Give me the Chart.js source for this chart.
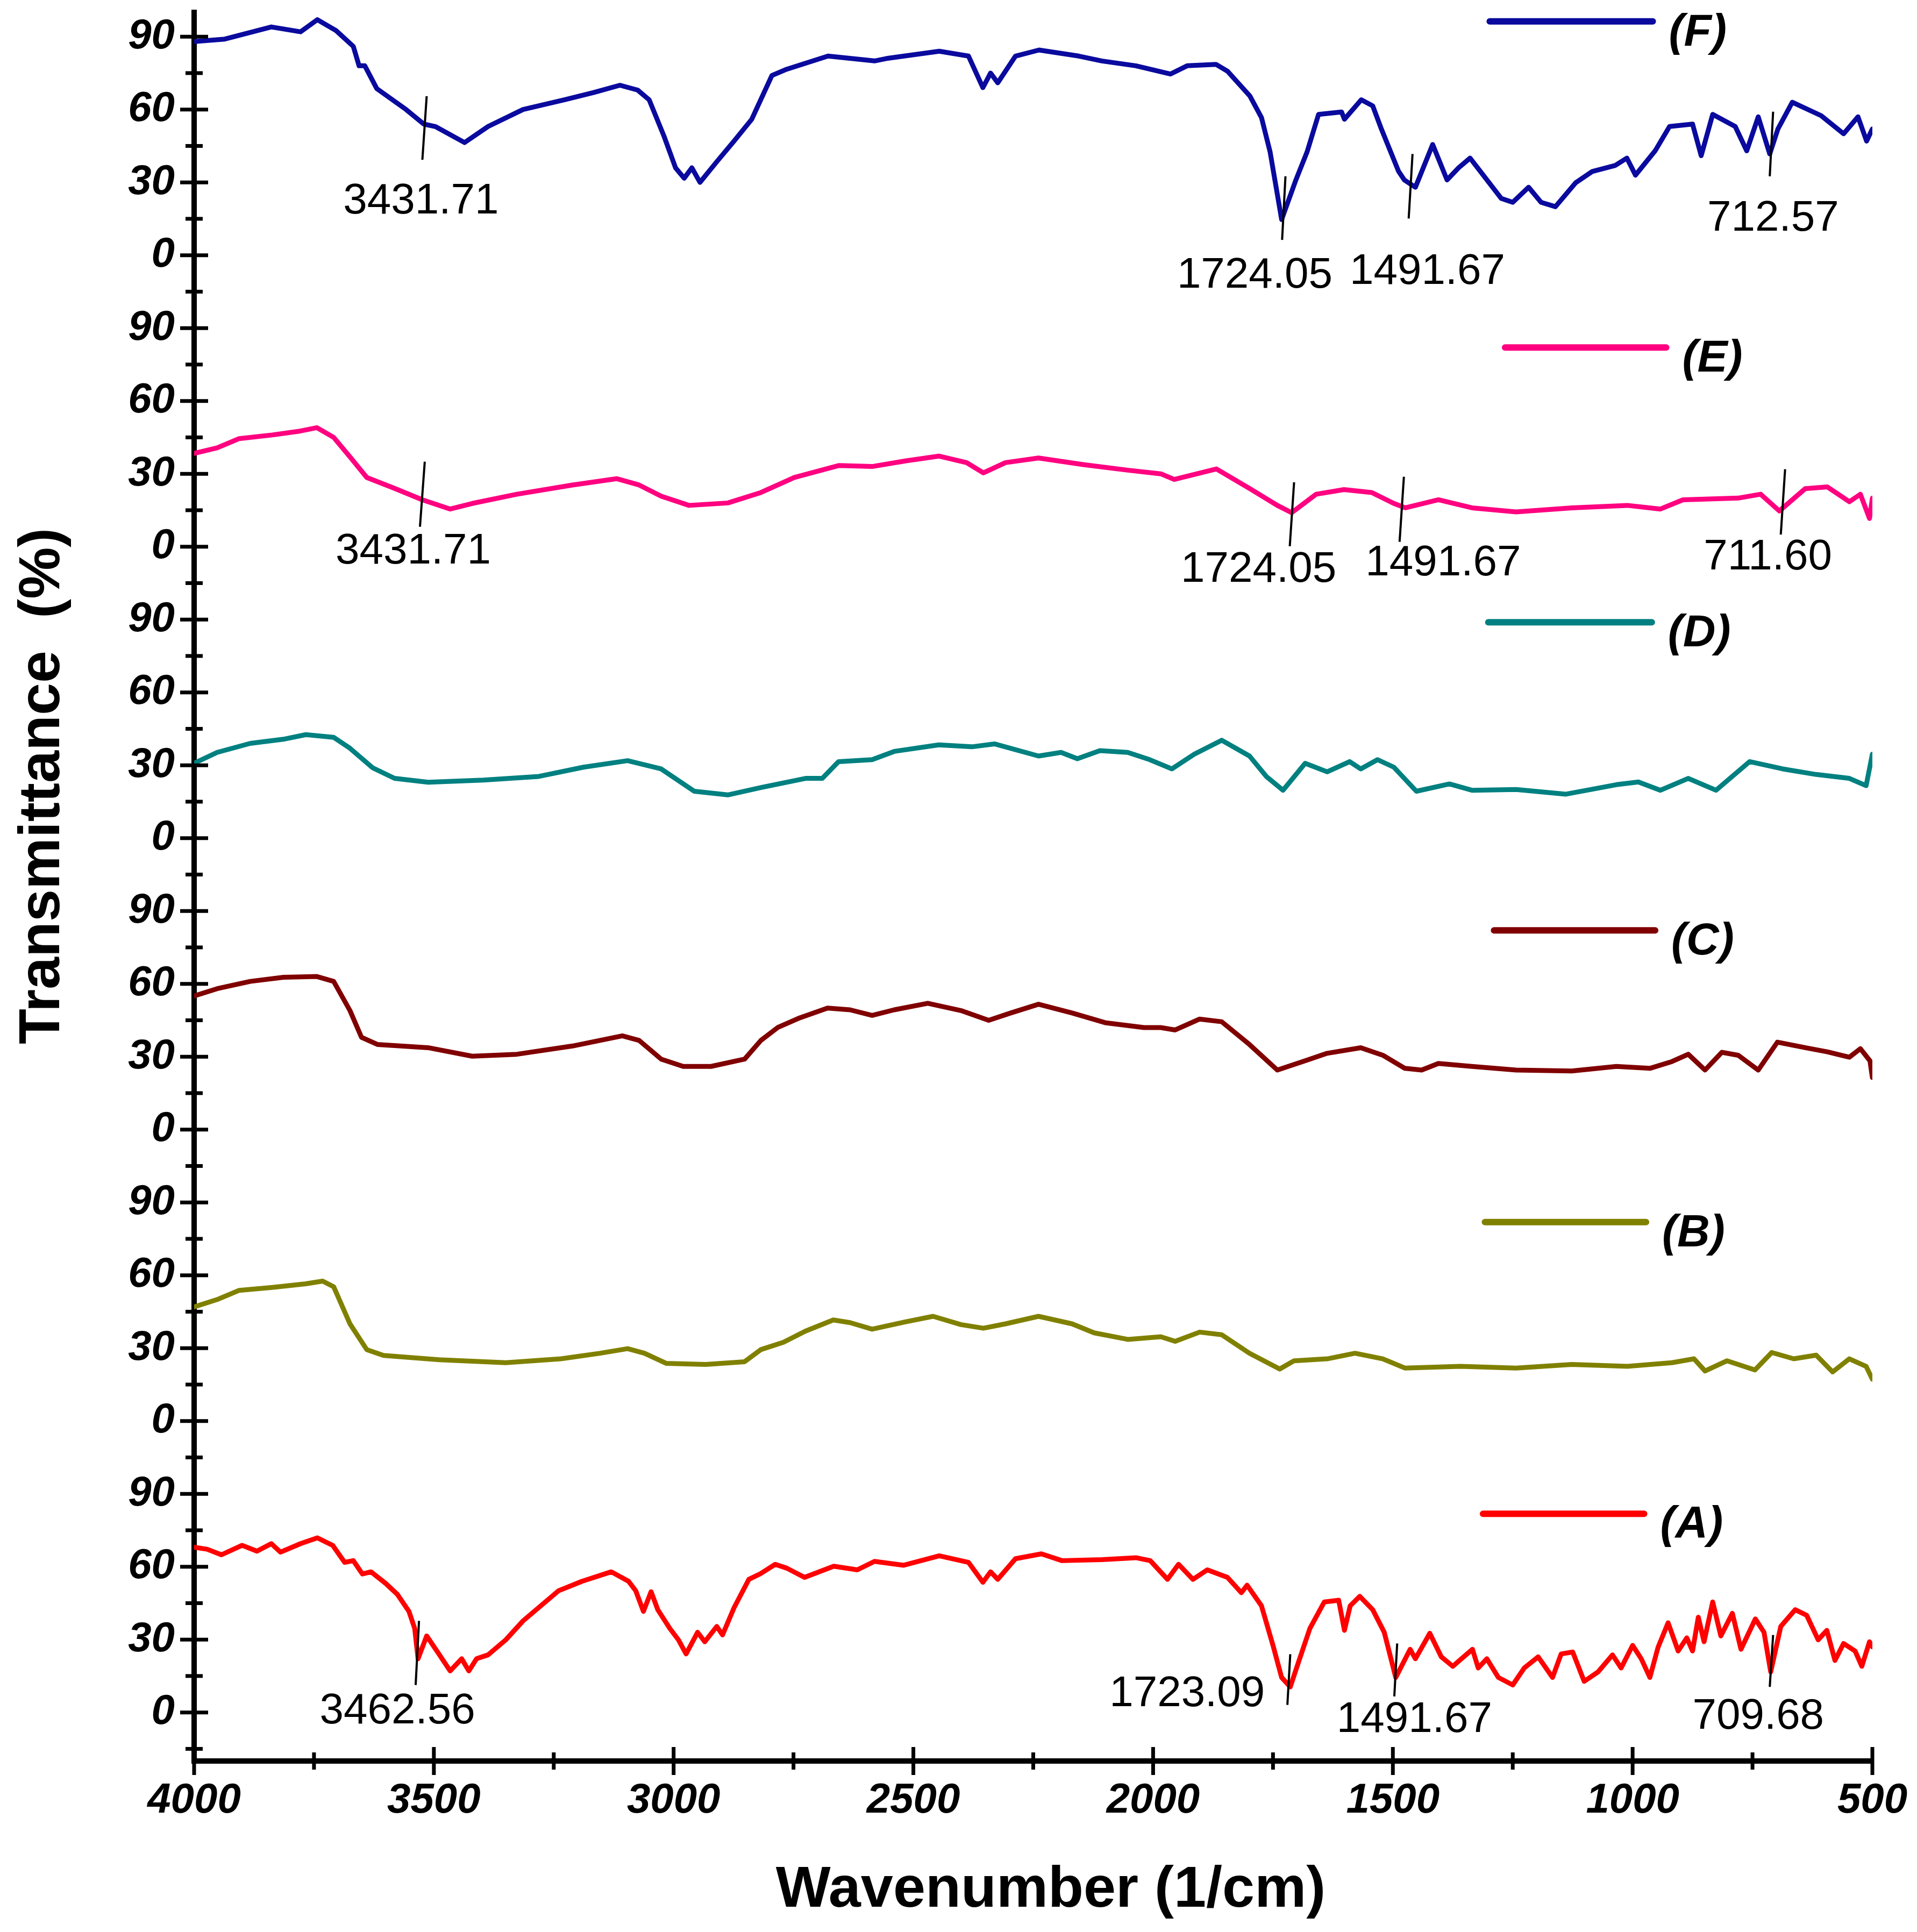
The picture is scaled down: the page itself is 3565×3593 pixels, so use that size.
<!DOCTYPE html>
<html>
<head>
<meta charset="utf-8">
<title>FTIR spectra</title>
<script src="https://cdn.jsdelivr.net/npm/chart.js@4.4.0/dist/chart.umd.min.js"></script>
<style>
  html, body { margin: 0; padding: 0; background: #fff; }
  canvas { display: block; }
</style>
</head>
<body>
<canvas id="ftirChart" width="3565" height="3593"></canvas>
<script>
// --- spectra: wavenumber (1/cm) and transmittance (%) ---
const wnA = [4000,3973,3943,3900,3869,3839,3820,3778,3743,3711,3686,3668,3649,3631,3601,3576,3552,3540,3533,3515,3491,3466,3442,3427,3411,3387,3350,3314,3277,3240,3191,3130,3094,3079,3063,3047,3033,3008,2990,2974,2950,2935,2910,2898,2874,2843,2819,2788,2764,2727,2666,2617,2581,2520,2446,2385,2355,2339,2324,2287,2233,2190,2107,2036,2006,1970,1947,1917,1887,1845,1816,1804,1774,1750,1732,1714,1697,1673,1643,1613,1601,1589,1569,1542,1518,1494,1464,1453,1423,1399,1375,1357,1334,1322,1304,1280,1250,1226,1197,1167,1149,1125,1101,1072,1042,1024,1000,982,964,947,926,905,887,875,863,851,833,816,792,774,744,726,712,691,661,637,613,595,578,560,536,522,506,500];
const trA = [68,67.2,64.9,68.8,66.4,69.5,66,69.5,71.9,68.8,61.8,62.5,57,57.9,53.2,48.6,41.6,34.6,22.1,31.5,24.5,17.1,22.1,17.1,22.1,23.7,29.9,37.7,43.9,50.1,54,57.9,54,50.1,41.6,49.7,42.3,34.6,29.9,24.1,33,29.1,35.4,31.9,43.1,54.8,57.1,61,59.4,55.6,60.2,58.7,62.2,60.6,64.5,61.8,53.6,57.9,54.8,63.3,65.3,62.5,62.9,63.7,62.5,54.8,61,54.8,58.7,55.6,49.3,52.4,43.9,27.6,14.4,10.5,20.6,34.6,45.5,46.2,33.8,43.9,47.8,42.3,33,14.4,26,22.1,32.6,22.9,19,22.1,26,18.3,22.1,14.4,11.3,18.3,22.9,14.4,24.1,24.9,12.8,16.7,23.7,18.3,27.6,22.1,14.4,26.8,36.9,25.3,30.7,25.3,39.2,29.1,45.5,31.5,40.8,26,38.5,33,16.7,35.4,42.3,40,29.9,33.8,21.4,28.4,25.3,19,29.1,27];

const wnB = [4000,3952,3906,3837,3767,3732,3709,3675,3640,3605,3489,3350,3235,3153,3096,3061,3015,2933,2852,2818,2771,2725,2667,2632,2586,2517,2459,2401,2354,2308,2239,2169,2123,2053,1984,1954,1903,1857,1799,1736,1706,1637,1579,1521,1475,1359,1243,1127,1011,918,872,849,803,745,710,664,617,583,548,513,500];
const trB = [47,50,53.8,55,56.5,57.6,55.3,40,29.4,27,25.2,24,25.6,27.9,29.8,27.9,23.7,23.3,24.4,29.4,32.4,37,41.6,40.5,37.8,40.8,43.1,39.7,38.2,40,43.1,40,36.3,33.6,34.7,32.8,36.6,35.5,27.9,21.4,24.8,25.6,27.9,25.6,21.8,22.5,21.8,23.3,22.5,24,25.6,20.6,24.8,21,28.2,25.6,27.1,20.2,25.6,22.5,17.2];

const wnC = [4000,3952,3883,3814,3744,3709,3675,3651,3617,3512,3420,3327,3211,3107,3072,3026,2980,2922,2852,2818,2783,2737,2679,2632,2586,2540,2470,2401,2343,2297,2239,2169,2100,2019,1984,1954,1903,1857,1799,1741,1683,1637,1567,1521,1475,1440,1405,1335,1243,1127,1034,964,918,884,849,814,780,738,698,640,594,548,525,505,500];
const trC = [55,58,61,62.7,63,61,49,38,35,33.7,30.2,31,34.4,38.6,36.7,29,26,26,29,36.7,42,46,50,49.3,47,49.3,52,49,45,48,51.6,48,44,42,42,41,45.5,44.4,35,24.5,28.3,31.4,33.7,30.6,25.2,24.5,27.2,26,24.5,24.1,26,25.2,28,31,24.5,31.8,30.6,24.5,36,33.7,32,29.8,33.3,28.3,21.4];

const wnD = [4000,3952,3883,3814,3767,3709,3675,3628,3582,3512,3397,3281,3188,3096,3026,2957,2887,2818,2725,2690,2656,2586,2540,2447,2378,2331,2239,2192,2158,2111,2053,2007,1961,1914,1857,1799,1764,1729,1683,1637,1590,1567,1532,1498,1451,1382,1335,1243,1139,1034,988,942,884,826,756,687,617,548,513,500];
const trD = [30.8,35.3,39,40.7,42.6,41.5,37,29,24.6,23,23.9,25.4,29.2,31.9,28.5,19.3,17.8,20.8,24.6,24.6,31.5,32.3,35.7,38.4,37.6,38.8,33.8,35.3,32.7,36,35.3,32.3,28.5,34.6,40.3,33.8,25.4,19.7,30.8,27.3,31.5,28.5,32.3,29.2,19.3,22.3,19.7,20,18.1,22,23.1,19.7,24.6,19.7,31.5,28.5,26.2,24.6,21.6,34.6];

const wnE = [4000,3952,3906,3837,3779,3744,3709,3675,3640,3582,3524,3466,3420,3327,3211,3119,3072,3026,2968,2887,2818,2748,2656,2586,2517,2447,2389,2354,2308,2239,2146,2053,1984,1956,1868,1799,1741,1711,1660,1602,1544,1498,1474,1405,1335,1243,1127,1011,942,895,780,733,694,640,594,548,525,506,500];
const trE = [38.4,40.7,44.5,46,47.6,49,45,37,28.5,24,19.3,15.5,17.8,21.6,25.4,28,25.4,20.8,17,18,22.3,28.5,33.4,33,35.3,37.3,34.6,30.4,34.6,36.5,33.8,31.5,30,27.7,32,24,17,14,21.6,23.5,22.3,17.8,16,19.3,16,14.3,16,17,15.5,19.3,20,21.6,14.7,23.9,24.6,18.5,21.6,11.6,20];

const wnF = [4000,3936,3839,3778,3743,3704,3668,3656,3644,3619,3558,3521,3497,3436,3387,3314,3228,3167,3112,3075,3051,3020,2996,2978,2962,2945,2910,2874,2837,2795,2764,2678,2581,2556,2446,2385,2355,2339,2324,2287,2238,2155,2107,2036,1964,1929,1869,1845,1798,1774,1756,1732,1703,1679,1655,1607,1601,1566,1542,1524,1488,1476,1453,1417,1387,1363,1339,1274,1250,1217,1191,1161,1119,1084,1036,1012,994,953,923,875,857,833,786,762,738,714,697,667,607,560,530,512,500];
const trF = [88,89,94,92,97,92.5,86,78,78,68.6,60,54,53,46.4,53,60,64,67,70,68,64,49,36,31.7,36,30,38.5,47,56,74,76.6,82,80,81,84,82,69,75,71,82,84.5,82,80,78,74.6,78,78.6,75.8,65.5,56.7,42.5,14.7,30.6,42.5,58,59,56,64,61.5,52,34.5,31,28,45.6,31,36,40,23.4,21.8,28,21.8,20,29.8,34.5,37,40,33,43,53,54,41,58,53,43,57,41.7,52,63,57.5,50,57,47,52];

const seriesNames = ['(A)', '(B)', '(C)', '(D)', '(E)', '(F)'];
const seriesColors = ['#ff0000', '#808000', '#800000', '#008080', '#ff0080', '#0a0a9e'];
const panelOffsets = [0, 120, 240, 360, 480, 600];   // each trace is stacked 120 units above the previous
const panelTickLabels = [0, 30, 60, 90];
const xTickValues = [4000, 3750, 3500, 3250, 3000, 2750, 2500, 2250, 2000, 1750, 1500, 1250, 1000, 750, 500];

const allWn = [wnA, wnB, wnC, wnD, wnE, wnF];
const allTr = [trA, trB, trC, trD, trE, trF];

// minor + major y ticks, every 15 units across the stacked panels
const yTickValues = [];
for (let v = -15; v <= 690; v += 15) yTickValues.push(v);

// peak markers: short slanted line [wnTop, tTop, wnBottom, tBottom] and label centre [wn, t]
const peakMarks = [
    { panel: 5, text: '3431.71', line: [3515, 65.5, 3524, 39.3], at: [3527, 22] },
    { panel: 5, text: '1724.05', line: [1724, 32.5, 1731, 6.3], at: [1788, -8.5] },
    { panel: 5, text: '1491.67', line: [1459, 41.7, 1467, 15.1], at: [1428, -7] },
    { panel: 5, text: '712.57', line: [707, 59.1, 714, 32.5], at: [707, 15] },
    { panel: 4, text: '3431.71', line: [3519, 35, 3529, 8.2], at: [3543, -2] },
    { panel: 4, text: '1724.05', line: [1706, 26.5, 1715, 0.2], at: [1780, -9.5] },
    { panel: 4, text: '1491.67', line: [1477, 28.8, 1486, 2], at: [1395, -7] },
    { panel: 4, text: '711.60', line: [682, 31.9, 691, 5], at: [718, -4.5] },
    { panel: 0, text: '3462.56', line: [3531, 37.7, 3538, 11.3], at: [3576, 0.4] },
    { panel: 0, text: '1723.09', line: [1714, 24, 1720, 3.1], at: [1929, 7.4] },
    { panel: 0, text: '1491.67', line: [1491, 28.4, 1497, 6.6], at: [1455, -3.1] },
    { panel: 0, text: '709.68', line: [707, 31.9, 714, 10.5], at: [738, -1.9] }
];

// legend sample line per panel: [wnStart, wnEnd, t]
const legendSpots = [
    [1312, 976, 81.8],
    [1308, 972, 81.9],
    [1289, 953, 82],
    [1301, 960, 88.9],
    [1266, 930, 82],
    [1298, 958, 96.3]
];

const datasets = allWn.map((wn, i) => ({
    label: seriesNames[i],
    data: wn.map((x, j) => ({ x: x, y: allTr[i][j] + panelOffsets[i] })),
    borderColor: seriesColors[i],
    borderWidth: 9,
    pointRadius: 0,
    tension: 0,
    borderJoinStyle: 'round',
    borderCapStyle: 'round',
    fill: false
}));

// Tick marks crossing both axes, peak markers, legend and axis titles
const decorations = {
    id: 'decorations',
    afterDatasetsDraw(chart) {
        const { ctx, scales: { x, y } } = chart;
        ctx.save();

        // peak markers
        ctx.strokeStyle = '#000';
        ctx.fillStyle = '#000';
        ctx.lineWidth = 4;
        ctx.font = '80px "Liberation Sans", Arial, sans-serif';
        ctx.textAlign = 'center';
        ctx.textBaseline = 'middle';
        peakMarks.forEach(m => {
            const off = panelOffsets[m.panel];
            ctx.beginPath();
            ctx.moveTo(x.getPixelForValue(m.line[0]), y.getPixelForValue(m.line[1] + off));
            ctx.lineTo(x.getPixelForValue(m.line[2]), y.getPixelForValue(m.line[3] + off));
            ctx.stroke();
            ctx.fillText(m.text, x.getPixelForValue(m.at[0]), y.getPixelForValue(m.at[1] + off));
        });

        // legend per panel
        ctx.lineWidth = 12;
        ctx.lineCap = 'round';
        ctx.font = 'italic bold 84px "Liberation Sans", Arial, sans-serif';
        ctx.textAlign = 'left';
        legendSpots.forEach((s, i) => {
            const py = y.getPixelForValue(s[2] + panelOffsets[i]);
            const x0 = x.getPixelForValue(s[0]);
            const x1 = x.getPixelForValue(s[1]);
            ctx.strokeStyle = seriesColors[i];
            ctx.beginPath();
            ctx.moveTo(x0, py);
            ctx.lineTo(x1, py);
            ctx.stroke();
            ctx.fillText(seriesNames[i], x1 + 30, py + 22);
        });
        ctx.restore();
    },
    afterDraw(chart) {
        const { ctx, chartArea, scales: { x, y } } = chart;
        ctx.save();
        ctx.strokeStyle = '#000';
        ctx.lineWidth = 7;
        y.ticks.forEach(t => {
            const py = y.getPixelForValue(t.value);
            const len = t.value % 30 === 0 ? 26 : 16;
            ctx.beginPath();
            ctx.moveTo(chartArea.left - len, py);
            ctx.lineTo(chartArea.left + len, py);
            ctx.stroke();
        });
        x.ticks.forEach(t => {
            const px = x.getPixelForValue(t.value);
            const len = t.value % 500 === 0 ? 26 : 16;
            ctx.beginPath();
            ctx.moveTo(px, chartArea.bottom - len);
            ctx.lineTo(px, chartArea.bottom + len);
            ctx.stroke();
        });

        // axis titles
        ctx.fillStyle = '#000';
        ctx.font = 'bold 108px "Liberation Sans", Arial, sans-serif';
        ctx.textAlign = 'center';
        ctx.textBaseline = 'alphabetic';
        ctx.fillText('Wavenumber (1/cm)', 1954, 3546);
        ctx.translate(110, 1462);
        ctx.rotate(-Math.PI / 2);
        ctx.fillText('Transmittance  (%)', 0, 0);
        ctx.restore();
    }
};

new Chart(document.getElementById('ftirChart').getContext('2d'), {
    type: 'line',
    data: { datasets: datasets },
    options: {
        responsive: false,
        devicePixelRatio: 1,
        animation: false,
        layout: { padding: { top: 23, right: 83, left: 0, bottom: 0 } },
        plugins: {
            legend: { display: false },
            tooltip: { enabled: false }
        },
        scales: {
            x: {
                type: 'linear',
                reverse: true,
                min: 500,
                max: 4000,
                afterBuildTicks: axis => { axis.ticks = xTickValues.map(v => ({ value: v })); },
                afterFit: axis => { axis.height = 318; axis.paddingLeft = 0; axis.paddingRight = 0; },
                grid: { display: false, drawTicks: false },
                border: { display: true, color: '#000', width: 10 },
                ticks: {
                    autoSkip: false,
                    maxRotation: 0,
                    padding: 28,
                    color: '#000',
                    font: { family: '"Liberation Sans", Arial, sans-serif', size: 78, weight: 'bold', style: 'italic' },
                    callback: v => (v % 500 === 0 ? String(v) : '')
                }
            },
            y: {
                type: 'linear',
                min: -20,
                max: 700,
                afterBuildTicks: axis => { axis.ticks = yTickValues.map(v => ({ value: v })); },
                afterFit: axis => { axis.width = 361; axis.paddingTop = 0; axis.paddingBottom = 0; },
                grid: { display: false, drawTicks: false },
                border: { display: true, color: '#000', width: 10 },
                ticks: {
                    autoSkip: false,
                    padding: 36,
                    color: '#000',
                    font: { family: '"Liberation Sans", Arial, sans-serif', size: 78, weight: 'bold', style: 'italic' },
                    callback: v => (v >= 0 && v % 30 === 0 && panelTickLabels.includes(v % 120) ? String(v % 120) : '')
                }
            }
        }
    },
    plugins: [decorations]
});
</script>
</body>
</html>
